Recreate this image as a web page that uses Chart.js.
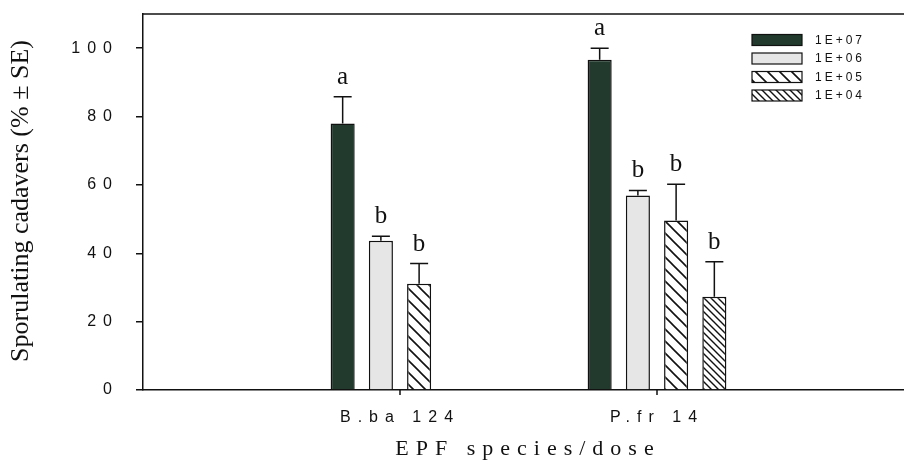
<!DOCTYPE html>
<html><head><meta charset="utf-8">
<script src="https://cdn.jsdelivr.net/npm/chart.js@4/dist/chart.umd.min.js"></script>
<style>html,body{margin:0;padding:0;overflow:hidden;background:#fff}#wrap{width:914px;height:472px;position:relative}</style>
</head><body><div id="wrap"><canvas id="c" width="914" height="472"></canvas></div>
<script>
// ---- data ----
const categories = ['', 'B.ba 124', 'P.fr 14', ''];
const doseLabels = ['1E+07', '1E+06', '1E+05', '1E+04'];
const dose07 = [null, 78.0, 96.6, null];
const dose06 = [null, 43.7, 56.9, null];
const dose05 = [null, 31.1, 49.6, null];
const dose04 = [null, null, 27.3, null];
const se07 = [null, 7.8, 3.4, null];
const se06 = [null, 1.3, 1.5, null];
const se05 = [null, 5.9, 10.6, null];
const se04 = [null, null, 10.2, null];
const let07 = [null, 'a', 'a', null];
const let06 = [null, 'b', 'b', null];
const let05 = [null, 'b', 'b', null];
const let04 = [null, null, 'b', null];
const yTickValues = [0, 20, 40, 60, 80, 100];
const yTitle = 'Sporulating cadavers (% \u00B1 SE)';
const xTitle = 'EPF species/dose';

const canvas = document.getElementById('c');
const ctx0 = canvas.getContext('2d');
function hatch(size, lw) {
  const c = document.createElement('canvas'); c.width = c.height = size;
  const g = c.getContext('2d');
  g.fillStyle = '#fff'; g.fillRect(0, 0, size, size);
  g.strokeStyle = '#111'; g.lineWidth = lw; g.beginPath();
  g.moveTo(-2, -2); g.lineTo(size + 2, size + 2);
  g.moveTo(-2, size - 2); g.lineTo(2, size + 2);
  g.moveTo(size - 2, -2); g.lineTo(size + 2, 2);
  g.stroke();
  return ctx0.createPattern(c, 'repeat');
}
const fills = ['#213a2d', '#e6e6e6', hatch(12, 1.6), hatch(7, 1.4)];
const seriesVals = [dose07, dose06, dose05, dose04];
const seriesErr = [se07, se06, se05, se04];
const seriesLet = [let07, let06, let05, let04];

const TICK_LS = '7px';
const spacing = {
  id: 'spacing',
  beforeUpdate(ch) { ch.ctx.letterSpacing = TICK_LS; },
  beforeDraw(ch) { ch.ctx.letterSpacing = TICK_LS; }
};

const extras = {
  id: 'extras',
  afterDatasetsDraw(ch) {
    const ctx = ch.ctx, ys = ch.scales.y;
    ctx.save();
    ctx.letterSpacing = '0px';
    ctx.strokeStyle = '#111'; ctx.lineWidth = 1.5;
    ch.data.datasets.forEach((ds, i) => {
      const meta = ch.getDatasetMeta(i);
      ds.data.forEach((v, j) => {
        if (v == null) return;
        const bar = meta.data[j];
        const yTop = ys.getPixelForValue(v);
        const yE = ys.getPixelForValue(v + seriesErr[i][j]);
        ctx.beginPath();
        ctx.moveTo(bar.x, yTop); ctx.lineTo(bar.x, yE);
        ctx.moveTo(bar.x - 9, yE); ctx.lineTo(bar.x + 9, yE);
        ctx.stroke();
        const L = seriesLet[i][j];
        if (L) {
          ctx.fillStyle = '#111';
          ctx.font = '25px "Liberation Serif", "Times New Roman", serif';
          ctx.textAlign = 'center'; ctx.textBaseline = 'alphabetic';
          ctx.fillText(L, bar.x, yE - 13);
        }
      });
    });
    ctx.restore();
  },
  afterDraw(ch) {
    const ctx = ch.ctx, a = ch.chartArea, xs = ch.scales.x;
    ctx.save();
    ctx.strokeStyle = '#111'; ctx.lineWidth = 1.5;
    ctx.beginPath(); ctx.moveTo(a.left, a.top); ctx.lineTo(a.right, a.top); ctx.stroke();
    // x tick marks at labelled categories
    ctx.beginPath();
    xs.ticks.forEach((t, i) => {
      if (!categories[i]) return;
      const px = xs.getPixelForTick(i);
      ctx.moveTo(px, a.bottom); ctx.lineTo(px, a.bottom + 5);
    });
    ctx.stroke();
    // legend
    ctx.letterSpacing = '3px';
    ctx.font = '12px "Liberation Sans", Arial, sans-serif';
    ctx.textAlign = 'left'; ctx.textBaseline = 'middle';
    ch.data.datasets.forEach((ds, i) => {
      const cy = 40 + i * 18.5;
      ctx.fillStyle = ds.backgroundColor;
      ctx.fillRect(752, cy - 5.5, 50, 11);
      ctx.lineWidth = 1.2; ctx.strokeStyle = '#111';
      ctx.strokeRect(752, cy - 5.5, 50, 11);
      ctx.fillStyle = '#111';
      ctx.fillText(ds.label, 815, cy + 0.5);
    });
    // axis titles
    ctx.letterSpacing = '0px';
    ctx.font = '26px "Liberation Serif", "Times New Roman", serif';
    ctx.textAlign = 'center'; ctx.textBaseline = 'middle';
    ctx.translate(21, 201); ctx.rotate(-Math.PI / 2);
    ctx.fillText(yTitle, 0, 0);
    ctx.setTransform(1, 0, 0, 1, 0, 0);
    ctx.letterSpacing = '7px';
    ctx.font = '22px "Liberation Serif", "Times New Roman", serif';
    ctx.textAlign = 'center'; ctx.textBaseline = 'middle';
    ctx.fillText(xTitle, 528, 449);
    ctx.restore();
  }
};

new Chart(canvas, {
  type: 'bar',
  data: {
    labels: categories,
    datasets: seriesVals.map((d, i) => ({
      label: doseLabels[i], data: d,
      backgroundColor: fills[i], borderColor: '#111', borderWidth: 1.5,
      categoryPercentage: 0.595, barPercentage: 0.63
    }))
  },
  options: {
    responsive: false, animation: false, devicePixelRatio: 1,
    layout: { padding: { left: 0, right: 0, top: 14, bottom: 0 } },
    plugins: { legend: { display: false }, tooltip: { enabled: false } },
    scales: {
      x: {
        offset: false,
        grid: { display: false, offset: false },
        border: { display: true, color: '#111', width: 1.5 },
        ticks: {
          color: '#111', padding: 10, maxRotation: 0, autoSkip: false,
          font: { family: '"Liberation Sans", Arial, sans-serif', size: 16 }
        },
        afterFit(s) { s.height = 82; s.paddingLeft = 0; s.paddingRight = 0; }
      },
      y: {
        min: 0, max: 110,
        afterBuildTicks(s) { s.ticks = yTickValues.map(v => ({ value: v })); },
        grid: { drawOnChartArea: false, drawTicks: true, tickLength: 7, tickColor: '#111', lineWidth: 1.5 },
        border: { display: true, color: '#111', width: 1.5 },
        ticks: {
          color: '#111', padding: 17,
          font: { family: '"Liberation Sans", Arial, sans-serif', size: 16 }
        },
        afterFit(s) { s.width = 143; s.paddingTop = 0; s.paddingBottom = 0; }
      }
    }
  },
  plugins: [spacing, extras]
});
</script></body></html>
